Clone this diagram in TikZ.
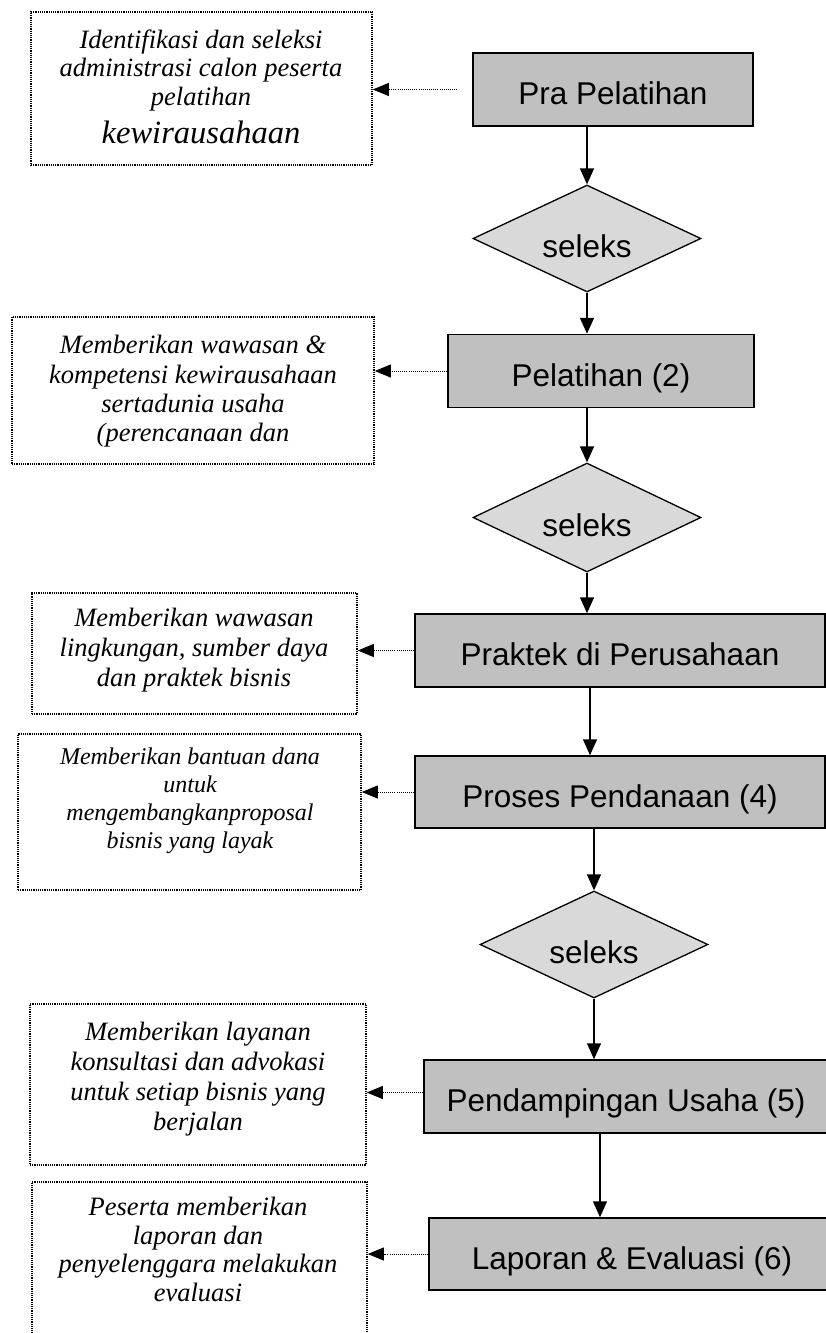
\documentclass[tikz,border=0pt]{standalone}
\usepackage{fontspec}
\setmainfont{Liberation Serif}
\newfontfamily\boxfont{Liberation Sans}
\usetikzlibrary{shapes.geometric,arrows.meta}
\definecolor{procfill}{HTML}{C0C0C0}
\definecolor{decfill}{HTML}{D9D9D9}
\begin{document}
\begin{tikzpicture}[x=1pt,y=-1pt,
  proc/.style={draw, line width=1.5pt, fill=procfill, inner sep=0pt,
    font=\boxfont\fontsize{31.5}{36}\selectfont,
    text height=30pt, text depth=0pt, minimum height=73pt},
  dec/.style={diamond, aspect=2.13, draw, line width=1.3pt, fill=decfill,
    inner sep=0pt, minimum width=228pt, minimum height=107pt,
    font=\boxfont\fontsize{31.5}{36}\selectfont,
    text height=38pt, text depth=0pt},
  note/.style={draw, line width=1.6pt, dash pattern=on 1.2pt off 1pt,
    inner sep=0pt},
  notetext/.style={align=center, inner sep=0pt},
  flow/.style={line width=1.5pt, -{Triangle[length=16pt,width=14pt]}},
  link/.style={line width=1pt, dash pattern=on 0.9pt off 1.2pt,
    -{Triangle[length=16pt,width=13pt]}}
]
\clip (0,0) rectangle (826,1333);

% process boxes
\node[proc, minimum width=280pt] (pra)  at (613,89.5)   {Pra Pelatihan};
\node[proc, minimum width=306pt] (pel)  at (601,371)    {Pelatihan (2)};
\node[proc, minimum width=410pt] (prak) at (620,650.5)  {Praktek di Perusahaan};
\node[proc, minimum width=410pt, minimum height=72pt] (pros) at (620,792) {Proses Pendanaan (4)};
\node[proc, minimum width=404pt] (pend) at (626,1096.5) {Pendampingan Usaha (5)};
\node[proc, minimum width=406pt, minimum height=72pt] (lap) at (632,1254) {Laporan \& Evaluasi (6)};

% selection diamonds
\node[dec] (d1) at (587,238.5) {seleks};
\node[dec, minimum height=109pt] (d2) at (587,517.5) {seleks};
\node[dec] (d3) at (594,944.5) {seleks};

% description frames
\node[note, minimum width=341pt, minimum height=153pt] (b1) at (201.5,88.5) {};
\node[note, minimum width=362pt, minimum height=147pt] (b2) at (193,390.5) {};
\node[note, minimum width=325pt, minimum height=121pt] (b3) at (194.5,653.5) {};
\node[note, minimum width=343pt, minimum height=156pt] (b4) at (189.5,812) {};
\node[note, minimum width=336pt, minimum height=161pt] (b5) at (198,1084.5) {};
\node[note, minimum width=335pt, minimum height=163pt] (b6) at (199.5,1263.5) {};

% description texts
\node[notetext, font=\itshape\fontsize{26.5}{28.5}\selectfont] (n1) at (201,86.5)
  {Identifikasi dan seleksi\\administrasi calon peserta\\pelatihan\\[9.5pt]{\fontsize{32.5}{38}\selectfont kewirausahaan}};
\node[notetext, font=\itshape\fontsize{26.5}{29.3}\selectfont] (n2) at (193,391.5)
  {Memberikan wawasan \&\\kompetensi kewirausahaan\\sertadunia usaha\\(perencanaan dan};
\node[notetext, font=\itshape\fontsize{26.5}{30}\selectfont] (n3) at (194,650.5)
  {Memberikan wawasan\\lingkungan, sumber daya\\dan praktek bisnis};
\node[notetext, font=\itshape\fontsize{24}{28}\selectfont] (n4) at (190,801)
  {Memberikan bantuan dana\\untuk\\mengembangkanproposal\\bisnis yang layak};
\node[notetext, font=\itshape\fontsize{26.5}{30}\selectfont] (n5) at (198,1079)
  {Memberikan layanan\\konsultasi dan advokasi\\untuk setiap bisnis yang\\berjalan};
\node[notetext, font=\itshape\fontsize{26.5}{28.5}\selectfont] (n6) at (198,1249.5)
  {Peserta memberikan\\laporan dan\\penyelenggara melakukan\\evaluasi};

% main flow
\draw[flow] (d1.north |- pra.south) -- (d1.north);
\draw[flow] (d1.south) -- (d1.south |- pel.north);
\draw[flow] (d2.north |- pel.south) -- (d2.north);
\draw[flow] (d2.south) -- (d2.south |- prak.north);
\draw[flow] ([xshift=-30pt]prak.south) -- ([xshift=-30pt]prak.south |- pros.north);
\draw[flow] (d3.north |- pros.south) -- (d3.north);
\draw[flow] (d3.south) -- (d3.south |- pend.north);
\draw[flow] ([xshift=-26pt]pend.south) -- ([xshift=-26pt]pend.south |- lap.north);

% links to the descriptions
\draw[link] ([xshift=-15pt]pra.west) -- (pra.west -| b1.east);
\draw[link] (pel.west) -- (pel.west -| b2.east);
\draw[link] (prak.west) -- (prak.west -| b3.east);
\draw[link] (pros.west) -- (pros.west -| b4.east);
\draw[link] ([yshift=4pt]pend.west) -- ([yshift=4pt]pend.west -| b5.east);
\draw[link] (lap.west) -- (lap.west -| b6.east);
\end{tikzpicture}
\end{document}
